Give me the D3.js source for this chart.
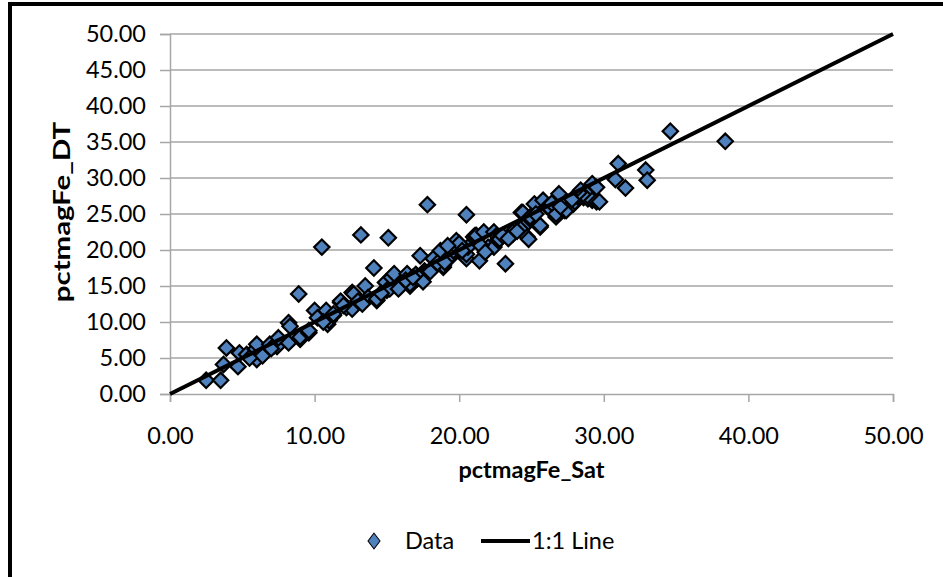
<!DOCTYPE html>
<html>
<head>
<meta charset="utf-8">
<script src="https://cdn.jsdelivr.net/npm/d3@7/dist/d3.min.js"></script>
<style>
  html, body { margin: 0; padding: 0; background: #fff; }
  svg { display: block; font-family: Lato, "Open Sans", sans-serif; }
</style>
</head>
<body>
<svg id="chart" width="943" height="577"></svg>
<script>
// Satellite-derived vs. DT-derived magnetite Fe percentages
const pctmagFeSat = [
  2.5, 3.5, 3.7, 3.9, 4.7, 4.8, 5.3, 5.9, 6.0, 6.4,
  6.0, 6.9, 7.2, 7.4, 7.5, 8.2, 8.2, 8.3, 8.9, 9.0,
  9.0, 9.6, 9.6, 10.0, 10.2, 10.5, 10.8, 10.9, 11.0, 11.3,
  11.3, 11.8, 11.8, 12.2, 12.6, 12.6, 12.7, 13.0, 13.2, 13.5,
  13.7, 14.1, 14.3, 14.3, 14.9, 15.0, 15.1, 15.2, 15.3, 15.5,
  16.0, 16.4, 16.6, 16.6, 17.1, 17.3, 17.6, 17.8, 17.5, 18.2,
  18.7, 18.9, 18.9, 19.4, 19.4, 19.6, 19.8, 19.8, 20.5, 20.5,
  20.5, 20.6, 21.0, 21.1, 21.2, 21.4, 21.7, 22.0, 22.4, 22.4,
  22.6, 22.7, 22.7, 22.8, 23.2, 23.7, 23.7, 24.3, 24.4, 24.4,
  24.7, 24.8, 24.8, 24.9, 24.9, 25.2, 25.6, 25.6, 25.8, 26.1,
  26.2, 26.7, 26.7, 26.9, 27.3, 27.4, 27.9, 28.0, 28.2, 28.4,
  28.6, 28.9, 29.1, 29.2, 29.2, 29.5, 29.5, 29.7, 30.8, 31.0,
  31.5, 32.9, 33.0, 34.6, 38.4, 12.0, 13.3, 14.6, 15.8, 16.3,
  17.0, 18.0, 18.5, 19.0, 20.0, 20.2, 21.5, 21.8, 23.0, 23.4,
  24.0, 25.3, 26.4, 27.0, 27.8, 7.0, 5.5, 10.6, 19.2, 16.8
];
const pctmagFeDT = [
  1.9, 1.9, 4.1, 6.4, 3.8, 5.7, 5.5, 6.2, 4.8, 5.3,
  6.9, 6.9, 6.7, 6.6, 7.8, 7.1, 9.9, 9.4, 13.9, 7.6,
  7.9, 8.5, 8.8, 11.6, 10.6, 20.4, 11.6, 9.7, 10.2, 10.9,
  11.1, 12.7, 12.9, 12.0, 11.8, 14.1, 13.9, 12.9, 22.1, 15.0,
  13.4, 17.5, 13.0, 13.2, 15.5, 14.4, 21.7, 14.6, 16.2, 16.7,
  15.2, 16.7, 15.0, 15.3, 16.0, 19.2, 17.1, 26.3, 15.6, 18.8,
  19.9, 17.6, 17.8, 19.0, 19.2, 19.9, 20.4, 21.3, 18.8, 19.4,
  24.9, 20.4, 21.8, 22.0, 22.0, 18.5, 22.5, 20.4, 22.5, 20.4,
  22.0, 21.3, 21.5, 21.5, 18.1, 22.2, 22.5, 25.2, 23.2, 25.2,
  21.8, 23.9, 21.5, 24.3, 24.6, 26.4, 23.2, 23.4, 26.9, 26.0,
  25.9, 24.6, 25.0, 27.8, 25.5, 25.5, 26.4, 26.7, 27.4, 28.3,
  27.3, 27.1, 28.7, 29.2, 26.9, 26.7, 28.7, 26.7, 29.8, 32.0,
  28.6, 31.1, 29.7, 36.5, 35.1, 12.3, 12.5, 14.0, 14.6, 15.8,
  16.6, 17.0, 18.2, 18.3, 20.9, 19.9, 20.6, 19.7, 22.0, 21.6,
  22.6, 25.0, 26.5, 26.0, 27.0, 6.3, 5.0, 10.0, 20.6, 16.2
];
// Reference 1:1 line endpoints
const oneToOne = [0, 50];
const xTicks = [0, 10, 20, 30, 40, 50];
const yTicks = [0, 5, 10, 15, 20, 25, 30, 35, 40, 45, 50];
const xTitle = "pctmagFe_Sat";
const yTitle = "pctmagFe_DT";
const legendLabels = ["Data", "1:1 Line"];

const svg = d3.select("#chart");
const plotLeft = 170, plotRight = 893, plotTop = 34, plotBottom = 394;
const fmt = d3.format(".2f");
const gridColor = "#a6a6a6";
const fillColor = "#4f81bd";
const labelSize = 23.5;

// Chart frame (runs off the right and bottom edges of the page)
svg.append("rect")
  .attr("x", 10).attr("y", 4).attr("width", 1200).attr("height", 1200)
  .attr("fill", "none").attr("stroke", "#000").attr("stroke-width", 4);

const x = d3.scaleLinear().domain([0, 50]).range([plotLeft, plotRight]);
const y = d3.scaleLinear().domain([0, 50]).range([plotBottom, plotTop]);

// Horizontal gridlines
svg.append("g")
  .selectAll("line")
  .data(yTicks.filter(v => v > 0))
  .join("line")
  .attr("x1", plotLeft).attr("x2", plotRight)
  .attr("y1", d => y(d)).attr("y2", d => y(d))
  .attr("stroke", gridColor).attr("stroke-width", 1.5);

// Y axis
const yAxis = svg.append("g")
  .attr("transform", `translate(${plotLeft},0)`)
  .call(d3.axisLeft(y).tickValues(yTicks).tickFormat(fmt).tickSize(10).tickPadding(14));
yAxis.select(".domain").attr("stroke", gridColor).attr("stroke-width", 1.5);
yAxis.selectAll(".tick line").attr("stroke", gridColor).attr("stroke-width", 1.5);
yAxis.selectAll("text").attr("font-size", labelSize).attr("fill", "#000")
  .attr("font-family", "Lato, sans-serif");

// X axis
const xAxis = svg.append("g")
  .attr("transform", `translate(0,${plotBottom})`)
  .call(d3.axisBottom(x).tickValues(xTicks).tickFormat(fmt).tickSize(8).tickPadding(25));
xAxis.select(".domain").attr("stroke", gridColor).attr("stroke-width", 1.5);
xAxis.selectAll(".tick line").attr("stroke", gridColor).attr("stroke-width", 1.5);
xAxis.selectAll("text").attr("font-size", labelSize).attr("fill", "#000")
  .attr("font-family", "Lato, sans-serif");

// Axis titles
svg.append("text")
  .attr("x", (plotLeft + plotRight) / 2).attr("y", 478)
  .attr("text-anchor", "middle")
  .attr("font-size", labelSize).attr("font-weight", "bold")
  .text(xTitle);
svg.append("text")
  .attr("transform", `translate(70,${(plotTop + plotBottom) / 2 - 2}) rotate(-90) scale(1.25,1)`)
  .attr("text-anchor", "middle")
  .attr("font-size", labelSize).attr("font-weight", "bold")
  .text(yTitle);

// Data markers
const diamond = d3.symbol().type(d3.symbolDiamond2).size(150);
const points = pctmagFeSat.map((v, i) => [v, pctmagFeDT[i]]);
svg.append("g")
  .selectAll("path")
  .data(points)
  .join("path")
  .attr("d", diamond)
  .attr("transform", d => `translate(${x(d[0])},${y(d[1])})`)
  .attr("fill", fillColor)
  .attr("stroke", "#000")
  .attr("stroke-width", 2.2);

// 1:1 line
svg.append("path")
  .datum(oneToOne)
  .attr("d", d3.line().x(d => x(d)).y(d => y(d)))
  .attr("stroke", "#000").attr("stroke-width", 4).attr("fill", "none");

// Legend
const lg = svg.append("g").attr("font-size", labelSize);
lg.append("path")
  .attr("d", d3.symbol().type(d3.symbolDiamond2).size(130))
  .attr("transform", "translate(374,541) scale(0.85,1.1)")
  .attr("fill", fillColor).attr("stroke", "#000").attr("stroke-width", 1);
lg.append("text").attr("x", 405).attr("y", 549).text(legendLabels[0]);
lg.append("line")
  .attr("x1", 481).attr("x2", 530).attr("y1", 541).attr("y2", 541)
  .attr("stroke", "#000").attr("stroke-width", 4);
lg.append("text").attr("x", 532).attr("y", 549).text(legendLabels[1]);
</script>
</body>
</html>
